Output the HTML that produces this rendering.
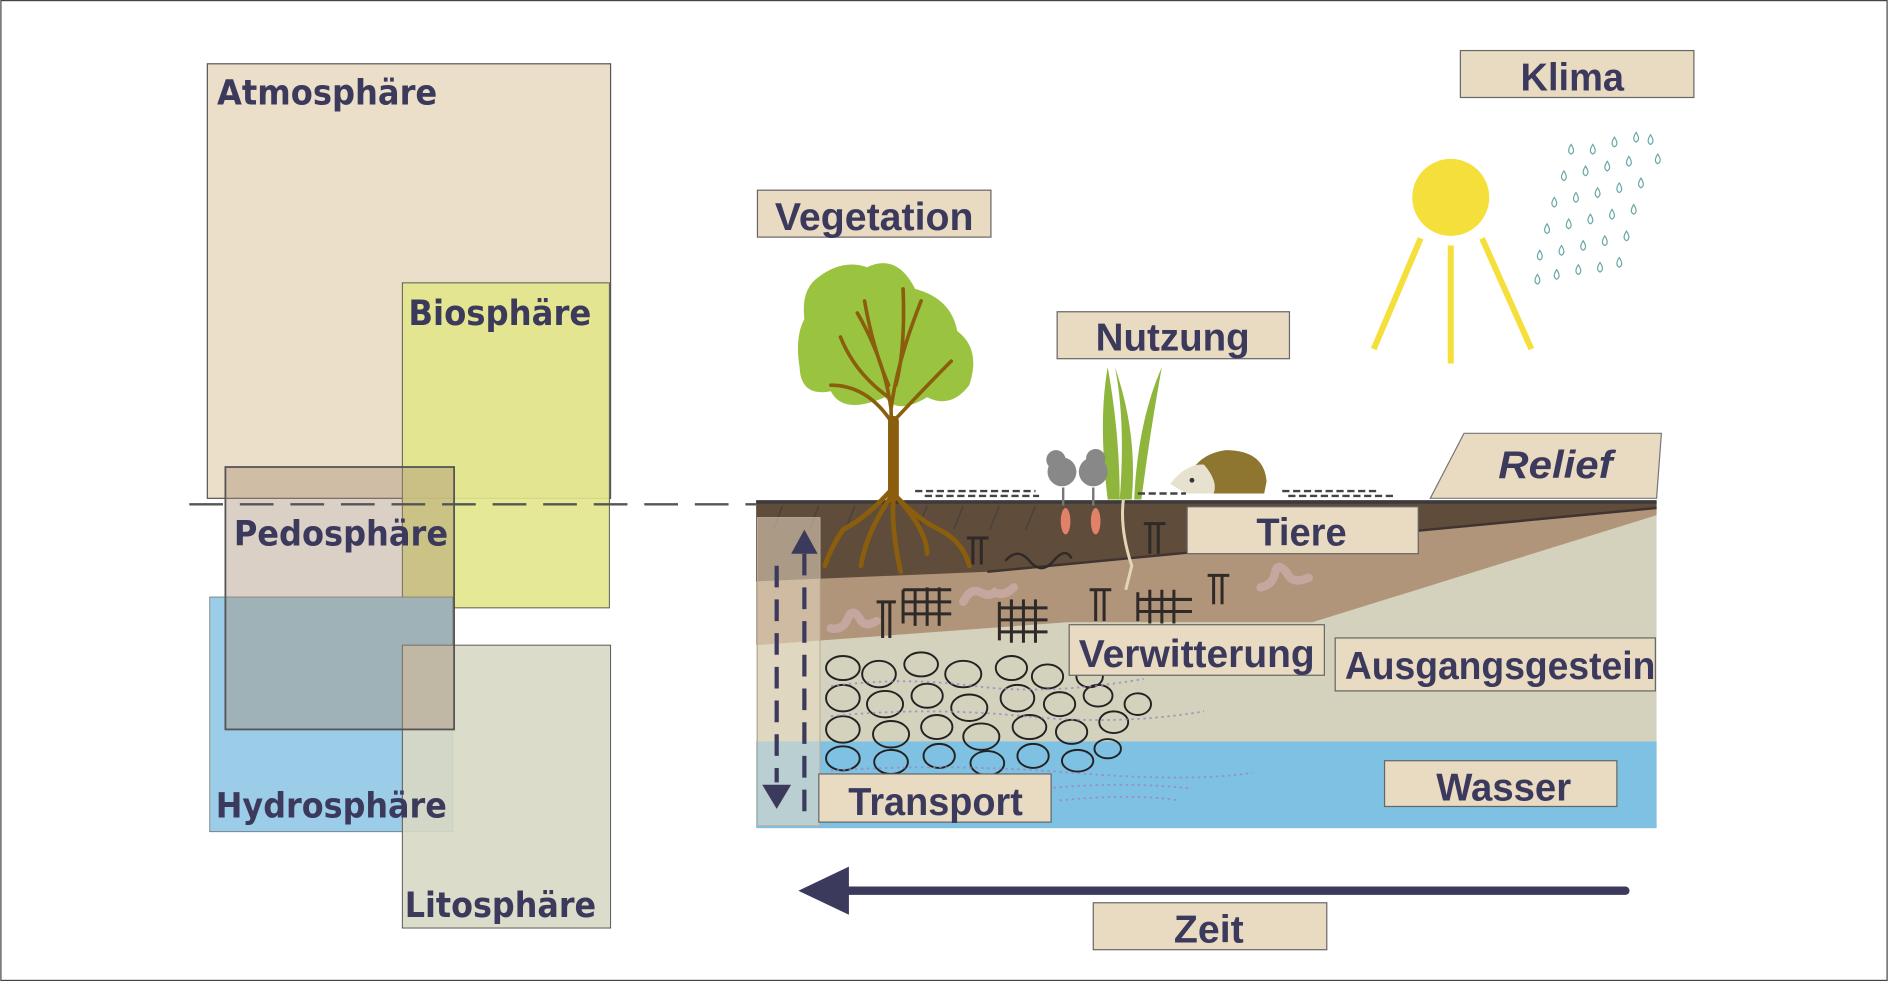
<!DOCTYPE html>
<html><head><meta charset="utf-8"><style>
html,body{margin:0;padding:0;background:#fff}
svg{display:block}
.l{font-family:"DejaVu Sans",sans-serif;font-weight:bold;font-size:29px;fill:#3c3a5c}
.r{font-family:"Liberation Sans",sans-serif;font-weight:bold;font-size:32px;fill:#3c3a5c}
.b{fill:#e9dac2;stroke:#666;stroke-width:1}
</style></head><body>
<svg width="1888" height="981" viewBox="0 0 1568 815" xmlns="http://www.w3.org/2000/svg">
<rect x="0.5" y="0.5" width="1567" height="814" fill="#fff" stroke="#444"/>
<rect x="172" y="53" width="335" height="361" fill="#ebdfca" stroke="#555"/>
<rect x="334" y="235" width="172" height="270" fill="#e2e68a" fill-opacity="0.9" stroke="#555" stroke-width="0.8"/>
<rect x="174" y="496" width="202" height="195" fill="#9ccde8" stroke="#666" stroke-width="0.6"/>
<rect x="334" y="536" width="173" height="235" fill="#d8d8c4" fill-opacity="0.9" stroke="#555" stroke-width="0.8"/>
<rect x="187" y="388" width="190" height="218" fill="#a48a70" fill-opacity="0.4" stroke="#555" stroke-width="1.5"/>
<line x1="157" y1="419" x2="628" y2="419" stroke="#555" stroke-width="2" stroke-dasharray="28,14"/>
<text class="l" x="180" y="87" textLength="183" lengthAdjust="spacingAndGlyphs">Atmosphäre</text>
<text class="l" x="339" y="270" textLength="152" lengthAdjust="spacingAndGlyphs">Biosphäre</text>
<text class="l" x="194" y="453" textLength="178" lengthAdjust="spacingAndGlyphs">Pedosphäre</text>
<text class="l" x="179" y="679" textLength="192" lengthAdjust="spacingAndGlyphs">Hydrosphäre</text>
<text class="l" x="336" y="762" textLength="159" lengthAdjust="spacingAndGlyphs">Litosphäre</text>
<rect x="628" y="416" width="748" height="272" fill="#d4d2bd"/>
<rect x="628" y="616" width="748" height="72" fill="#7fc1e3"/>
<polygon points="628,416 1376,416 1376,428 1090,517 886,517 628,536" fill="#b0957a"/>
<polygon points="628,416 1376,416 1376,422 820,475 628,483" fill="#5f4c3a"/>
<line x1="628" y1="417" x2="1376" y2="417" stroke="#3c3a3a" stroke-width="3"/>
<line x1="820" y1="475" x2="1376" y2="422" stroke="#3f3430" stroke-width="2"/>
<g stroke="#3c3a3a" stroke-width="1.2" opacity="0.6">
<line x1="650" y1="420" x2="642" y2="440"/><line x1="680" y1="420" x2="672" y2="440"/><line x1="710" y1="420" x2="702" y2="440"/><line x1="770" y1="420" x2="762" y2="440"/><line x1="800" y1="420" x2="792" y2="440"/><line x1="830" y1="420" x2="822" y2="440"/><line x1="860" y1="420" x2="852" y2="440"/>
</g>
<g fill="none" stroke="#222" stroke-width="1.6">
<ellipse cx="700" cy="555" rx="14" ry="10"/><ellipse cx="730" cy="560" rx="14" ry="11"/><ellipse cx="765" cy="552" rx="14" ry="10"/><ellipse cx="800" cy="560" rx="15" ry="11"/><ellipse cx="840" cy="555" rx="13" ry="10"/><ellipse cx="870" cy="562" rx="13" ry="10"/><ellipse cx="905" cy="562" rx="11" ry="9"/>
<ellipse cx="700" cy="580" rx="14" ry="11"/><ellipse cx="735" cy="585" rx="15" ry="11"/><ellipse cx="770" cy="578" rx="13" ry="10"/><ellipse cx="805" cy="588" rx="15" ry="11"/><ellipse cx="845" cy="580" rx="14" ry="11"/><ellipse cx="880" cy="585" rx="13" ry="10"/><ellipse cx="912" cy="578" rx="12" ry="9"/><ellipse cx="945" cy="585" rx="11" ry="9"/>
<ellipse cx="700" cy="606" rx="14" ry="11"/><ellipse cx="740" cy="610" rx="15" ry="11"/><ellipse cx="778" cy="604" rx="13" ry="10"/><ellipse cx="815" cy="612" rx="15" ry="11"/><ellipse cx="855" cy="604" rx="14" ry="10"/><ellipse cx="890" cy="608" rx="13" ry="10"/><ellipse cx="925" cy="600" rx="12" ry="9"/>
<ellipse cx="700" cy="630" rx="14" ry="10"/><ellipse cx="740" cy="633" rx="14" ry="10"/><ellipse cx="780" cy="628" rx="13" ry="10"/><ellipse cx="820" cy="634" rx="14" ry="10"/><ellipse cx="858" cy="628" rx="13" ry="10"/><ellipse cx="895" cy="632" rx="13" ry="9"/><ellipse cx="920" cy="622" rx="11" ry="8"/>
</g>
<g stroke="#2f2a28" stroke-width="2.5" fill="none">
<path d="M750 490v28M750 490h40M760 490v30M770 488v32M780 488v32M750 500h40M750 510h40"/>
<path d="M830 500v32M830 505h40M840 498v36M850 498v36M860 498v36M830 515h40M830 525h40"/>
<path d="M945 492v24M945 498h45M955 490v28M965 490v28M975 490v28M945 508h45"/>
<path d="M728 500h16M733 500v30M739 500v30M905 490h18M910 490v26M917 490v26M1003 478h18M1008 478v24M1015 478v24M803 447h18M808 447v22M815 447v22M950 435h18M955 435v25M962 435v25"/>
<path d="M835 466q10-12 20 0t20 0t15 -2" stroke-width="2"/>
</g>
<g stroke="#c5a7a0" stroke-width="7" fill="none" stroke-linecap="round">
<path d="M690 522q10 2 14-8t10 0q4 8 14 2"/><path d="M800 500q6-12 14-8t12 0q8 4 16 -4"/><path d="M1047 488q10 -2 12-12t10 0q4 10 18 4"/>
</g>
<rect x="629" y="430" width="52" height="256" fill="#e9dac2" fill-opacity="0.55" stroke="#b9ab96" stroke-width="0.8"/>
<line x1="645" y1="470" x2="645" y2="650" stroke="#3c3a5c" stroke-width="3.5" stroke-dasharray="18,10"/>
<line x1="668" y1="460" x2="668" y2="680" stroke="#3c3a5c" stroke-width="3.5" stroke-dasharray="18,10"/>
<polygon points="657,460 668,440 679,460" fill="#3c3a5c"/>
<polygon points="633,652 645,672 657,652" fill="#3c3a5c"/>
<path d="M680 230 Q700 215 720 222 Q745 210 760 240 Q790 248 795 275 Q815 290 805 320 Q790 340 770 330 Q745 345 735 330 Q700 345 690 325 Q665 330 664 305 Q660 280 668 265 Q665 240 680 230Z" fill="#9ac440"/>
<g stroke="#8a5e0c" fill="none" stroke-linecap="round">
<path d="M742 415 L740 340 Q735 300 712 260 M740 340 Q745 300 765 250 M740 350 Q720 320 690 320 M742 350 Q770 320 790 300 M738 320 Q725 290 718 250 M744 320 Q752 290 750 240 M738 330 Q710 310 698 280" stroke-width="3"/>
<path d="M742 350 L742 412" stroke-width="9"/>
<path d="M742 405 Q720 430 700 440 Q690 455 685 470 M742 410 Q760 430 780 440 Q800 450 805 470 M742 412 Q740 440 748 475 M742 410 Q720 440 715 470 M742 410 Q770 440 770 460" stroke-width="4"/>
</g>
<path d="M920 415 Q912 350 920 305 Q930 360 930 415Z M930 415 Q935 350 926 305 Q945 360 940 415Z M942 415 Q945 350 965 305 Q955 360 948 415Z" fill="#8fb63c"/>
<path d="M933 415 Q930 440 940 470 L935 490" stroke="#e3d5b5" stroke-width="2.5" fill="none"/>
<g fill="#888"><circle cx="882" cy="392" r="12"/><circle cx="877" cy="382" r="8"/><circle cx="908" cy="392" r="12"/><circle cx="910" cy="381" r="8"/></g>
<path d="M883 405v15M908 405v15" stroke="#777" stroke-width="2"/>
<ellipse cx="885" cy="433" rx="4" ry="11" fill="#e0826a"/><ellipse cx="910" cy="433" rx="4" ry="11" fill="#e0826a"/>
<path d="M985 405 Q990 378 1018 374 Q1050 374 1052 400 L1050 410 L992 410Z" fill="#8e7530"/>
<path d="M972 402 Q985 385 1000 386 Q1012 400 1008 410 L985 410Z" fill="#e7e2d0"/>
<circle cx="990" cy="399" r="2" fill="#333"/>
<g stroke="#444" stroke-width="2" stroke-dasharray="6,3">
<path d="M760 408h100M768 412h95M1065 408h80M1070 412h90M945 410h40"/>
</g>
<g stroke="#9a86c0" stroke-width="1.5" stroke-dasharray="2,3" fill="none" opacity="0.8">
<path d="M690 570q60-8 120 0t140-6M690 595q80-8 160 0t150-4M690 640q100 -6 200 2t150 0M870 655q60-6 120 0M880 665q60-6 100 0"/>
</g>
<rect class="b" x="1213" y="42" width="194" height="39"/><text class="r" x="1306" y="75" text-anchor="middle" textLength="86" lengthAdjust="spacingAndGlyphs">Klima</text>
<rect class="b" x="629" y="158" width="194" height="39"/><text class="r" x="726" y="191" text-anchor="middle" textLength="165" lengthAdjust="spacingAndGlyphs">Vegetation</text>
<rect class="b" x="878" y="259" width="193" height="39"/><text class="r" x="974" y="291" text-anchor="middle" textLength="128" lengthAdjust="spacingAndGlyphs">Nutzung</text>
<polygon points="1188,414 1216,360 1380,360 1376,414" fill="#e9dac2" stroke="#777"/>
<text x="1292" y="397" text-anchor="middle" font-family="Liberation Sans,sans-serif" font-weight="bold" font-style="italic" font-size="32" fill="#3c3a5c" textLength="95" lengthAdjust="spacingAndGlyphs">Relief</text>
<rect class="b" x="986" y="421" width="192" height="39"/><text class="r" x="1081" y="453" text-anchor="middle" textLength="75" lengthAdjust="spacingAndGlyphs">Tiere</text>
<rect class="b" x="888" y="519" width="212" height="42"/><text class="r" x="994" y="554" text-anchor="middle" textLength="196" lengthAdjust="spacingAndGlyphs">Verwitterung</text>
<rect class="b" x="1109" y="530" width="266" height="44"/><text class="r" x="1117" y="564" textLength="258" lengthAdjust="spacingAndGlyphs">Ausgangsgestein</text>
<rect class="b" x="1150" y="632" width="193" height="38"/><text class="r" x="1249" y="665" text-anchor="middle" textLength="112" lengthAdjust="spacingAndGlyphs">Wasser</text>
<rect class="b" x="680" y="643" width="193" height="40"/><text class="r" x="777" y="677" text-anchor="middle" textLength="145" lengthAdjust="spacingAndGlyphs">Transport</text>
<rect class="b" x="908" y="750" width="194" height="39"/><text class="r" x="1004" y="783" text-anchor="middle" textLength="58" lengthAdjust="spacingAndGlyphs">Zeit</text>
<line x1="700" y1="740" x2="1350" y2="740" stroke="#3c3a5c" stroke-width="7" stroke-linecap="round"/>
<polygon points="663,740 705,720 705,760" fill="#3c3a5c"/>
<circle cx="1205" cy="164" r="32" fill="#f5df3a"/>
<g stroke="#f5df3a" stroke-width="5"><line x1="1180" y1="198" x2="1141" y2="290"/><line x1="1205" y1="204" x2="1205" y2="302"/><line x1="1231" y1="198" x2="1272" y2="290"/></g>
<g fill="none" stroke="#6aa7a6" stroke-width="1">
<path id="d" d="M0 0 q-4 6 0 8 q4 -2 0 -8Z" transform="translate(1305 120)"/>
<use href="#d" x="18" y="0"/><use href="#d" x="36" y="-6"/><use href="#d" x="54" y="-10"/><use href="#d" x="66" y="-8"/>
<use href="#d" x="-6" y="22"/><use href="#d" x="12" y="18"/><use href="#d" x="30" y="14"/><use href="#d" x="48" y="10"/><use href="#d" x="72" y="8"/>
<use href="#d" x="-14" y="44"/><use href="#d" x="4" y="40"/><use href="#d" x="22" y="36"/><use href="#d" x="40" y="32"/><use href="#d" x="58" y="28"/>
<use href="#d" x="-20" y="66"/><use href="#d" x="-2" y="62"/><use href="#d" x="16" y="58"/><use href="#d" x="34" y="54"/><use href="#d" x="52" y="50"/>
<use href="#d" x="-26" y="88"/><use href="#d" x="-8" y="84"/><use href="#d" x="10" y="80"/><use href="#d" x="28" y="76"/><use href="#d" x="46" y="72"/>
<use href="#d" x="-28" y="108"/><use href="#d" x="-12" y="104"/><use href="#d" x="6" y="100"/><use href="#d" x="24" y="98"/><use href="#d" x="40" y="94"/>
</g>
</svg>
</body></html>
